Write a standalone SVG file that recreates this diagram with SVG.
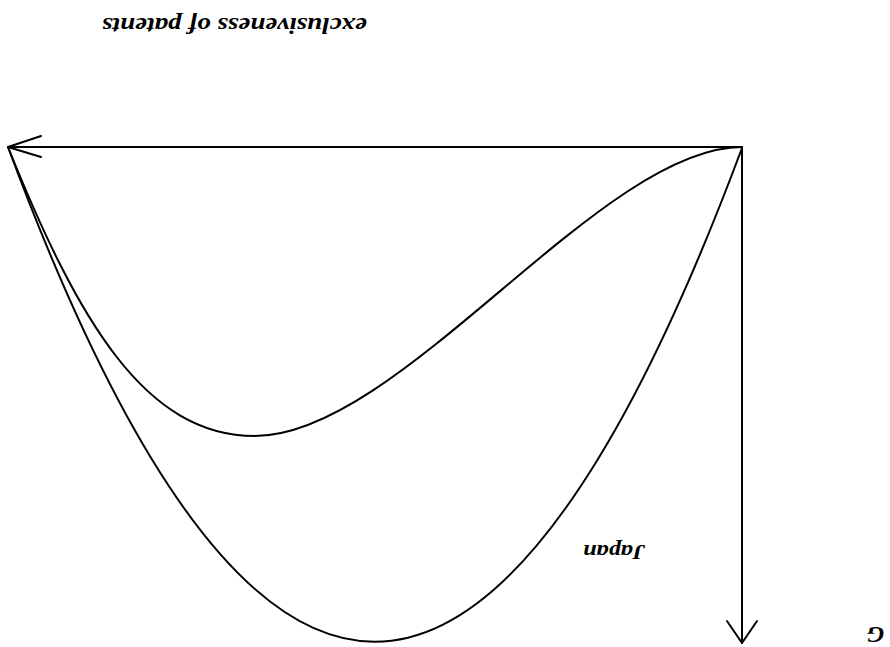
<svg xmlns="http://www.w3.org/2000/svg" width="890" height="647" viewBox="0 0 890 647">
  <style>
    .ln { fill: none; stroke: #000; stroke-width: 2; stroke-linejoin: round; stroke-linecap: round; }
    .lbl { font-family: "Liberation Serif", "Times New Roman", serif; font-weight: bold; font-style: italic; fill: #000; text-anchor: middle; }
  </style>
  <rect x="0" y="0" width="890" height="647" fill="#fff"/>
  <g id="connectors">
    <g id="axis-horizontal">
      <path class="ln" d="M742,147 L8,147"/>
      <path class="ln" d="M41,136 L8,147 L41,157"/>
    </g>
    <g id="axis-vertical">
      <path class="ln" d="M742,147 L742,643"/>
      <path class="ln" d="M727,621 L742,643 L757,621"/>
    </g>
  </g>
  <g id="curves">
    <path id="curve-japan" class="ln" d="M8,147 Q374,1136 742,148"/>
    <path id="curve-other" class="ln" d="M8,147 C78,321 145,436 255,436 C400,436 600,147 742,147"/>
  </g>
  <g id="label-top">
    <text class="lbl" x="234.5" y="18" font-size="24" textLength="265" lengthAdjust="spacingAndGlyphs" transform="rotate(180 234.5 18)">exclusiveness of patents</text>
  </g>
  <g id="label-japan">
    <text class="lbl" x="614" y="545" font-size="21" textLength="62" lengthAdjust="spacingAndGlyphs" transform="rotate(180 614 545)">Japan</text>
  </g>
  <g id="label-g">
    <text class="lbl" x="875.5" y="627" font-size="24" transform="rotate(180 875.5 627)">G</text>
  </g>
</svg>
